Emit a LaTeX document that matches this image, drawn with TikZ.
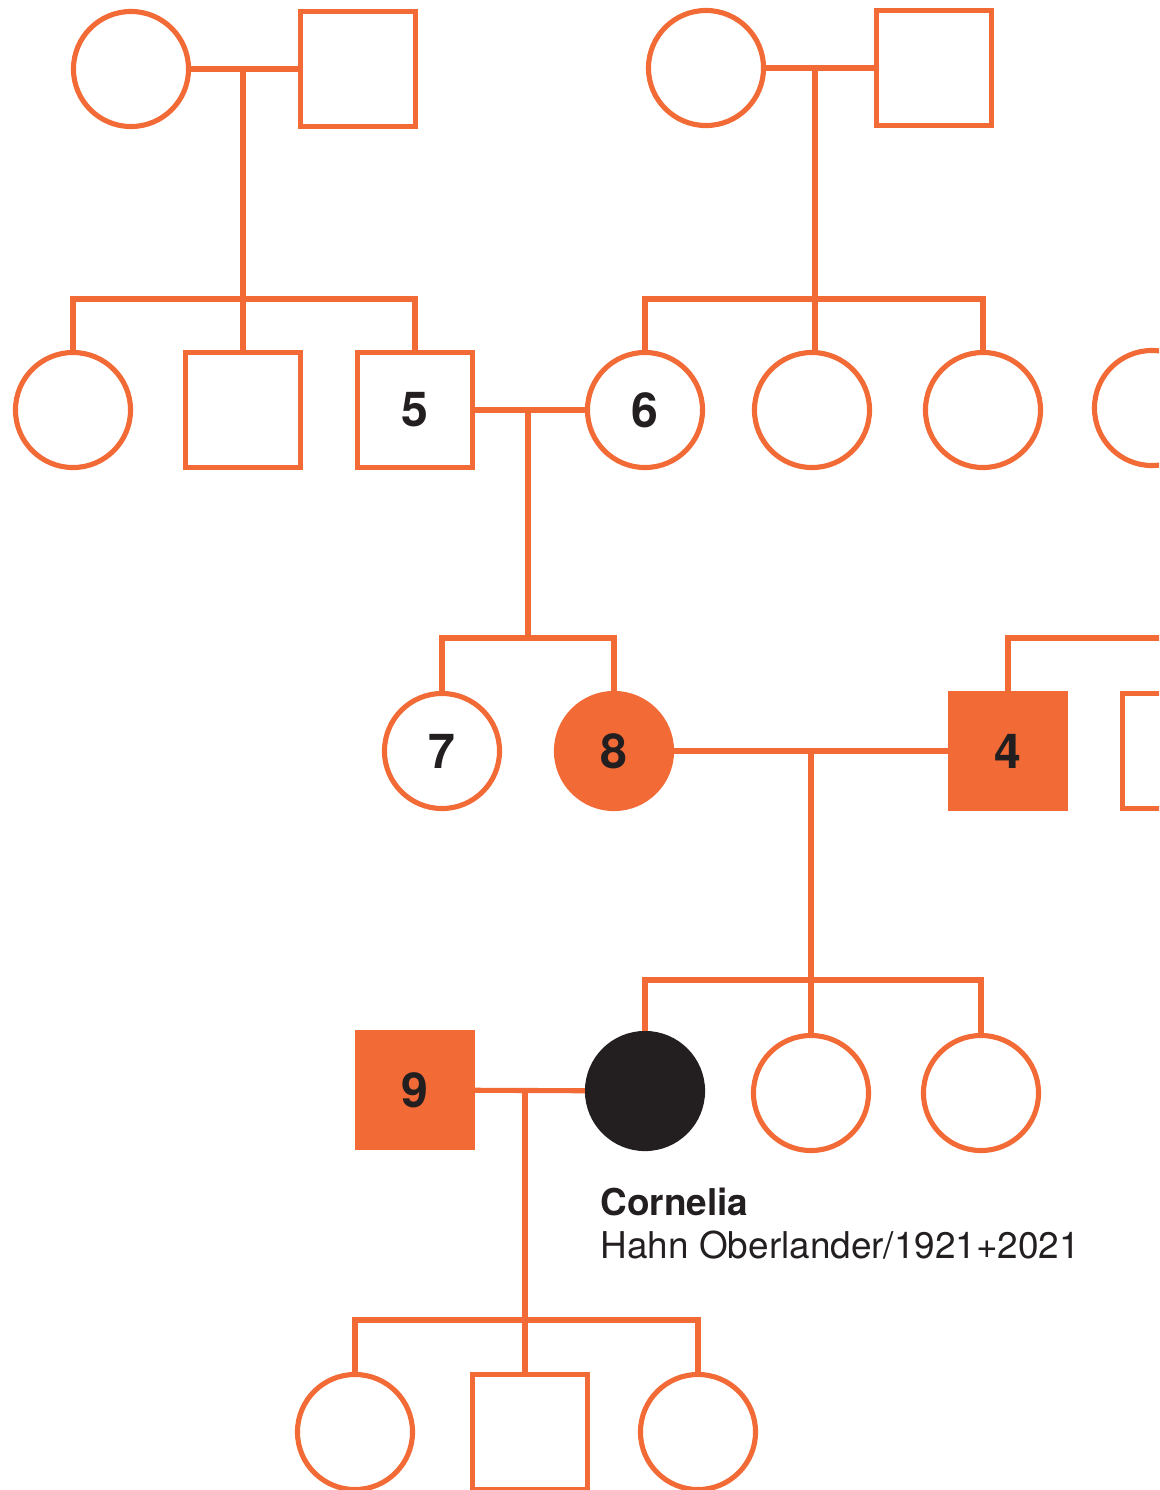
\documentclass[tikz,border=0pt]{standalone}
\usepackage{fontspec}
\setmainfont{TeX Gyre Heros}
\usetikzlibrary{positioning}
\definecolor{PedigreeOrange}{HTML}{F26A36}
\definecolor{PedigreeInk}{HTML}{231F20}

\begin{document}
\begin{tikzpicture}[x=0.01cm, y=-0.01cm,
    link/.style={draw=PedigreeOrange, line width=1.45pt},
    female/.style={circle, draw=PedigreeOrange, line width=1.45pt, fill=white, minimum size=1.15cm, inner sep=0pt,
        text=PedigreeInk, font=\fontsize{13.7}{16}\selectfont\bfseries},
    male/.style={rectangle, draw=PedigreeOrange, line width=1.45pt, fill=white, minimum size=1.15cm, inner sep=0pt,
        text=PedigreeInk, font=\fontsize{13.7}{16}\selectfont\bfseries},
    affected/.style={fill=PedigreeOrange},
    proband/.style={fill=PedigreeInk, draw=PedigreeInk},
    nametext/.style={anchor=base west, inner sep=0pt, text=PedigreeInk, font=\fontsize{10.5}{12.6}\selectfont}]
    \useasboundingbox (0,0) rectangle (1159,1490);
    \clip (0,0) rectangle (1159,1490);

    % Grandparents
    \node[female] (gmaL) at (131,69) {};
    \node[male] (gpaL) at (358,69) {};
    \node[female] (gmaR) at (706,68) {};
    \node[male] (gpaR) at (934,68) {};
    \coordinate (unionL) at (243,69);
    \coordinate (unionR) at (815,68);
    \coordinate (sibsL) at (243,299);
    \coordinate (sibsR) at (815,299);
    \draw[link] (gmaL) -- (gpaL);
    \draw[link] (gmaR) -- (gpaR);
    \draw[link] (unionL) -- (sibsL);
    \draw[link] (unionR) -- (sibsR);

    % Parents' generation
    \node[female] (auntL) at (73,410) {};
    \node[male] (uncleL) at (243,410) {};
    \node[male] (p5) at (415,410) {5};
    \node[female] (p6) at (645,410) {6};
    \node[female] (auntR) at (812,410) {};
    \node[female] (auntR2) at (983,410) {};
    \node[female] (auntR3) at (1152,408) {};
    \draw[link] (auntL.north) |- (sibsL) -| (p5.north);
    \draw[link] (sibsL) -- (uncleL.north);
    \draw[link] (p6.north) |- (sibsR) -| (auntR2.north);
    \draw[link] (sibsR) -- (sibsR |- auntR.north);

    % Couple 5 + 6
    \coordinate (union56) at (528,410);
    \coordinate (sibs56) at (528,638);
    \draw[link] (p5) -- (p6);
    \draw[link] (union56) -- (sibs56);

    % Children of 5 + 6, and 4
    \node[female] (p7) at (442,751) {7};
    \node[female, affected] (p8) at (614,751) {8};
    \node[male, affected] (p4) at (1008,751) {4};
    \node[male] (brother4) at (1180,751) {};
    \coordinate (sibs4) at (1175,638);
    \draw[link] (p7.north) |- (sibs56) -| (p8.north);
    \draw[link] (p4.north) |- (sibs4);

    % Couple 8 + 4
    \coordinate (union84) at (811,751);
    \coordinate (sibs84) at (811,980);
    \draw[link] (p8) -- (p4);
    \draw[link] (union84) -- (sibs84);

    % Cornelia and sisters
    \node[male, affected] (p9) at (415,1090) {9};
    \node[female, proband] (cornelia) at (645,1091) {};
    \node[female] (sisterA) at (811,1093) {};
    \node[female] (sisterB) at (981,1093) {};
    \draw[link] (cornelia.north) |- (sibs84) -| (sisterB.north);
    \draw[link] (sibs84) -- (sisterA.north);
    \node[nametext, font=\fontsize{10.5}{12.6}\selectfont\bfseries] (cornName) at (600,1215) {Cornelia};
    \node[nametext] (cornDates) at (600,1258) {Hahn Oberlander/1921+2021};

    % Couple 9 + Cornelia
    \coordinate (union9c) at (525,1090);
    \coordinate (sibs9c) at (525,1320);
    \draw[link] (p9) -- (cornelia);
    \draw[link] (union9c) -- (sibs9c);

    % Children
    \node[female] (childA) at (355,1432) {};
    \node[male] (childB) at (530,1432) {};
    \node[female] (childC) at (698,1432) {};
    \draw[link] (childA.north) |- (sibs9c) -| (childC.north);
    \draw[link] (sibs9c) -- (childB.north -| sibs9c);
\end{tikzpicture}
\end{document}
